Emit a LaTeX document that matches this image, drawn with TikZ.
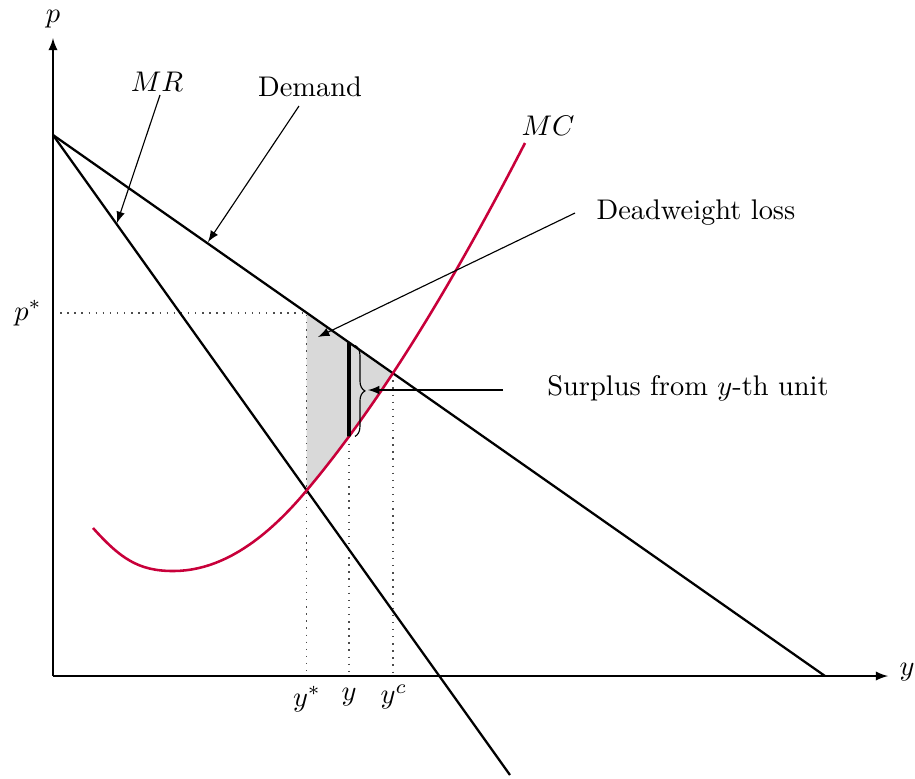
\documentclass[tikz,border=0pt]{standalone}
\usetikzlibrary{decorations.pathreplacing,arrows,intersections}
\definecolor{mccol}{RGB}{200,0,58}
\begin{document}
\begin{tikzpicture}[x=0.352pt,y=-0.352pt,
  curve/.style={line width=0.8pt},
  mcline/.style={line width=0.9pt, mccol},
  ann/.style={-latex, line width=0.4pt},
  axis/.style={-latex, line width=0.5pt},
  guide/.style={dotted, black!70, line width=0.5pt},
  lbl/.style={inner sep=1pt}]
\useasboundingbox (0,0) rectangle (915,778);
% key points
\coordinate (O) at (53,676);
\coordinate (ytop) at (53,38);
\coordinate (xend) at (888,676);
\coordinate (A) at (53,135);
\coordinate (Dend) at (825,676);
\coordinate (MRend) at (510,775);
\coordinate (pax) at (53,313);
% named paths (invisible)
\path[name path=dem] (A) -- (Dend);
\path[name path=mr] (A) -- (MRend);
\path[name path=mc] (93,528) .. controls (120,558) and (138,571) .. (173,571)
   .. controls (218,571) and (262,544) .. (307,490)
   .. controls (380,403) and (452,285) .. (525,143);
\path[name path=vy] (349,0) -- (349,778);
\path[name intersections={of=mc and mr, by=ist}];
\path[name intersections={of=mc and dem, by=ic}];
\path[name intersections={of=vy and dem, by=yD}];
\path[name intersections={of=vy and mc, by=yMC}];
\coordinate (pstar) at (ist |- pax);
\coordinate (ystarB) at (ist |- O);
\coordinate (yB) at (yMC |- O);
\coordinate (ycB) at (ic |- O);
% shaded area
\begin{scope}
  \clip (pstar) rectangle (ic |- 0,778);
  \clip (A) -- (Dend) -- (825,778) -- (53,778) -- cycle;
  \fill[black!15] (93,528) .. controls (120,558) and (138,571) .. (173,571)
   .. controls (218,571) and (262,544) .. (307,490)
   .. controls (380,403) and (452,285) .. (525,143) -- (525,0) -- (93,0) -- cycle;
\end{scope}
% guides
\draw[guide] (pax) -- (pstar) -- (ystarB);
\draw[guide] (yMC) -- (yB);
\draw[guide] (ic) -- (ycB);
% axes
\draw[axis] (O) -- (ytop);
\draw[axis] (O) -- (xend);
% curves
\draw[curve] (A) -- (Dend);
\draw[curve] (A) -- (MRend);
\draw[mcline] (93,528) .. controls (120,558) and (138,571) .. (173,571)
   .. controls (218,571) and (262,544) .. (307,490)
   .. controls (380,403) and (452,285) .. (525,143);
\draw[line width=1.3pt] (yD) -- (yMC);
\draw[decorate, decoration={brace, amplitude=3.5pt}, line width=0.4pt] ([shift={(6,3)}]yD) -- ([shift={(6,0)}]yMC);
% labels
\node[lbl] (plab) at (53,19) {$p$};
\node[lbl] (ylab) at (907,672) {$y$};
\node[lbl] (pslab) at (28,313) {$p^*$};
\node[lbl] (yslab) at (307,699) {$y^*$};
\node[lbl] (yylab) at (349,697) {$y$};
\node[lbl] (yclab) at (394,697) {$y^c$};
\node[lbl] (mrlab) at (157,82) {$MR$};
\node[lbl] (dlab) at (310,87) {Demand};
\node[lbl] (mclab) at (548,126) {$MC$};
\node[lbl] (dwllab) at (696,213) {Deadweight loss};
\node[lbl] (surlab) at (688,388) {Surplus from $y$-th unit};
% annotation arrows
\coordinate (mrs) at (160,95);
\coordinate (mrt) at (117,223);
\coordinate (ds) at (299,106);
\coordinate (dt) at (208,242);
\coordinate (dws) at (575,213);
\coordinate (dwt) at (318,337);
\coordinate (sus) at (503,390);
\coordinate (sut) at (368,390);
\draw[ann] (mrs) -- (mrt);
\draw[ann] (ds) -- (dt);
\draw[ann] (dws) -- (dwt);
\draw[ann] (sus) -- (sut);
\end{tikzpicture}
\end{document}
